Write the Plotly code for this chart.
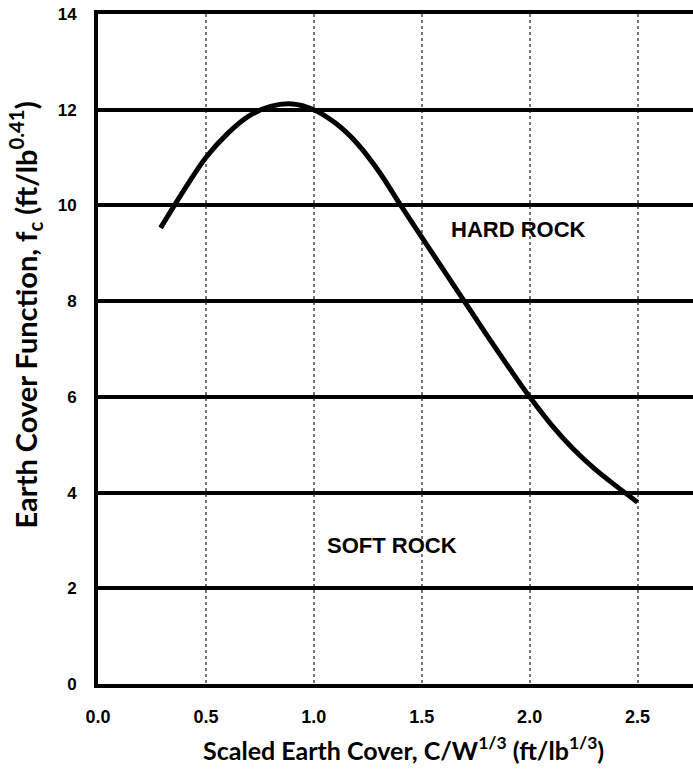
import plotly.graph_objects as go

# Data
x_vals = [0.29, 0.4, 0.5, 0.6, 0.7, 0.8, 0.9, 1.0, 1.1, 1.2, 1.3, 1.4, 1.5,
          1.6, 1.7, 1.8, 1.9, 2.0, 2.1, 2.2, 2.3, 2.4, 2.5]
fc_vals = [9.53, 10.33, 11.0, 11.5, 11.87, 12.07, 12.12, 12.0, 11.72, 11.3,
           10.72, 10.02, 9.34, 8.66, 7.98, 7.3, 6.64, 6.0, 5.42, 4.92, 4.5, 4.14, 3.8]
x_ticks = [0.0, 0.5, 1.0, 1.5, 2.0, 2.5]
x_tick_labels = ["0.0", "0.5", "1.0", "1.5", "2.0", "2.5"]
y_ticks = [0, 2, 4, 6, 8, 10, 12, 14]
labels = ["HARD ROCK", "SOFT ROCK"]
label_x = [1.95, 1.36]
label_y = [9.49, 2.9]

fig = go.Figure()
fig.add_trace(go.Scatter(x=x_vals, y=fc_vals, mode="lines",
                         line=dict(color="black", width=5, shape="spline"),
                         showlegend=False))

for t, lx, ly in zip(labels, label_x, label_y):
    fig.add_annotation(x=lx, y=ly, text=t, showarrow=False,
                       font=dict(family="Liberation Sans, Arial", size=22,
                                 color="black", weight="bold"))

# axis titles
fig.add_annotation(xref="paper", yref="paper", x=0.514, y=-0.097, yanchor="middle",
                   text="Scaled Earth Cover, C/W<sup>1/3</sup> (ft/lb<sup>1/3</sup>)",
                   showarrow=False,
                   font=dict(family="Lato, Open Sans", size=25, color="black", weight="bold"))
fig.add_annotation(xref="paper", yref="paper", x=-0.121, y=0.55, xanchor="center",
                   yanchor="middle",
                   text="Earth Cover Function, f<sub>c</sub> (ft/lb<sup>0.41</sup>)",
                   textangle=-90, showarrow=False,
                   font=dict(family="Lato, Open Sans", size=29, color="black", weight="bold"))

fig.update_layout(
    width=693, height=773,
    margin=dict(l=98, r=0, t=14, b=89, autoexpand=False),
    paper_bgcolor="white", plot_bgcolor="white",
    xaxis=dict(range=[0, 2.757], tickvals=x_ticks, ticktext=x_tick_labels,
               showgrid=True, gridcolor="#777777", gridwidth=2, griddash="dot",
               zeroline=False, showline=True, linecolor="black", linewidth=4,
               mirror=True, ticks="", ticklabelstandoff=13, automargin=False,
               tickfont=dict(family="Liberation Sans, Arial", size=18, color="black",
                             weight="bold")),
    yaxis=dict(range=[0, 14], tickvals=y_ticks,
               showgrid=True, gridcolor="black", gridwidth=4,
               zeroline=False, showline=True, linecolor="black", linewidth=4,
               ticks="", ticklabelstandoff=14, automargin=False,
               tickfont=dict(family="Liberation Sans, Arial", size=17, color="black",
                             weight="bold")),
)

fig.write_html("out.html", config={"displayModeBar": False},
               post_script="document.body.style.margin='0';")
